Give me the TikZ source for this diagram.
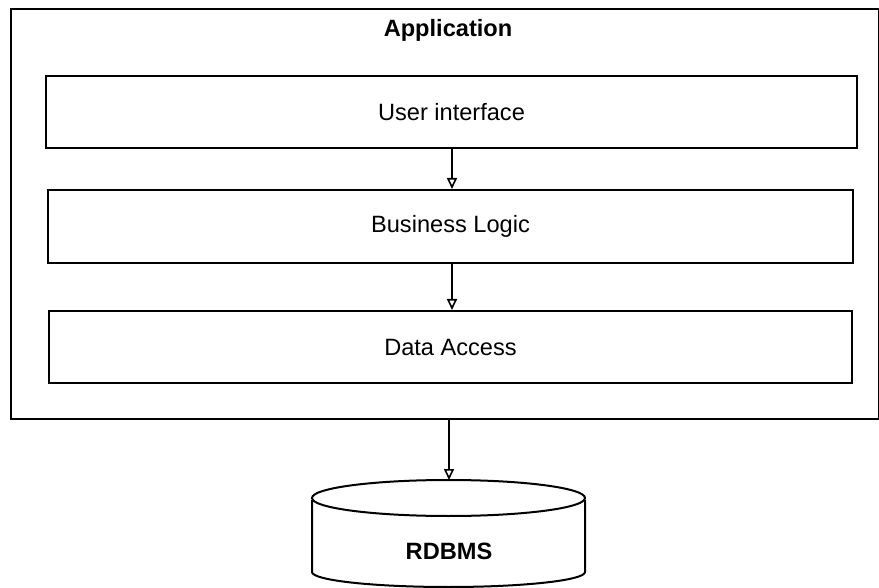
\documentclass[tikz,border=0pt]{standalone}
\usepackage{fontspec}
\setmainfont{Liberation Sans}
\usetikzlibrary{arrows.meta}
\begin{document}
\begin{tikzpicture}[x=1pt,y=-1pt,
  layerbox/.style={draw, line width=2pt, rectangle, inner sep=0pt, font=\fontsize{23.6}{27}\selectfont},
  conn/.style={line width=1.6pt, -{Triangle[open,length=11pt,width=10pt]}},
  boldlabel/.style={font=\fontsize{23.6}{27}\selectfont\bfseries, inner sep=0pt}]
\useasboundingbox (0,0) rectangle (879,588);
\node[draw, line width=2.2pt, minimum width=868pt, minimum height=410pt, anchor=north west, inner sep=0pt] (app) at (9.5,8) {};
\node[boldlabel] (apptitle) at (448,30) {Application};
\node[layerbox, minimum width=811pt, minimum height=72pt] (ui) at (451.5,112) {User interface};
\node[layerbox, minimum width=805pt, minimum height=73pt] (bl) at (450.5,226.5) {Business Logic};
\node[layerbox, minimum width=803pt, minimum height=72pt] (da) at (450.5,347) {Data Access};
% cylinder
\draw[line width=2pt, fill=white] (312,500) -- (312,572) arc[start angle=180, end angle=360, x radius=136.5pt, y radius=15pt] -- (585,500);
\draw[line width=2pt] (448.5,498) ellipse[x radius=136.5pt, y radius=18pt];
\coordinate (dbtop) at (449,480);
\node[boldlabel] (db) at (449,551) {RDBMS};
% connectors
\draw[conn] (ui.south -| 452,0) -- (bl.north -| 452,0);
\draw[conn] (bl.south -| 452,0) -- (da.north -| 452,0);
\draw[conn] (app.south -| dbtop) -- (dbtop);
\end{tikzpicture}
\end{document}
